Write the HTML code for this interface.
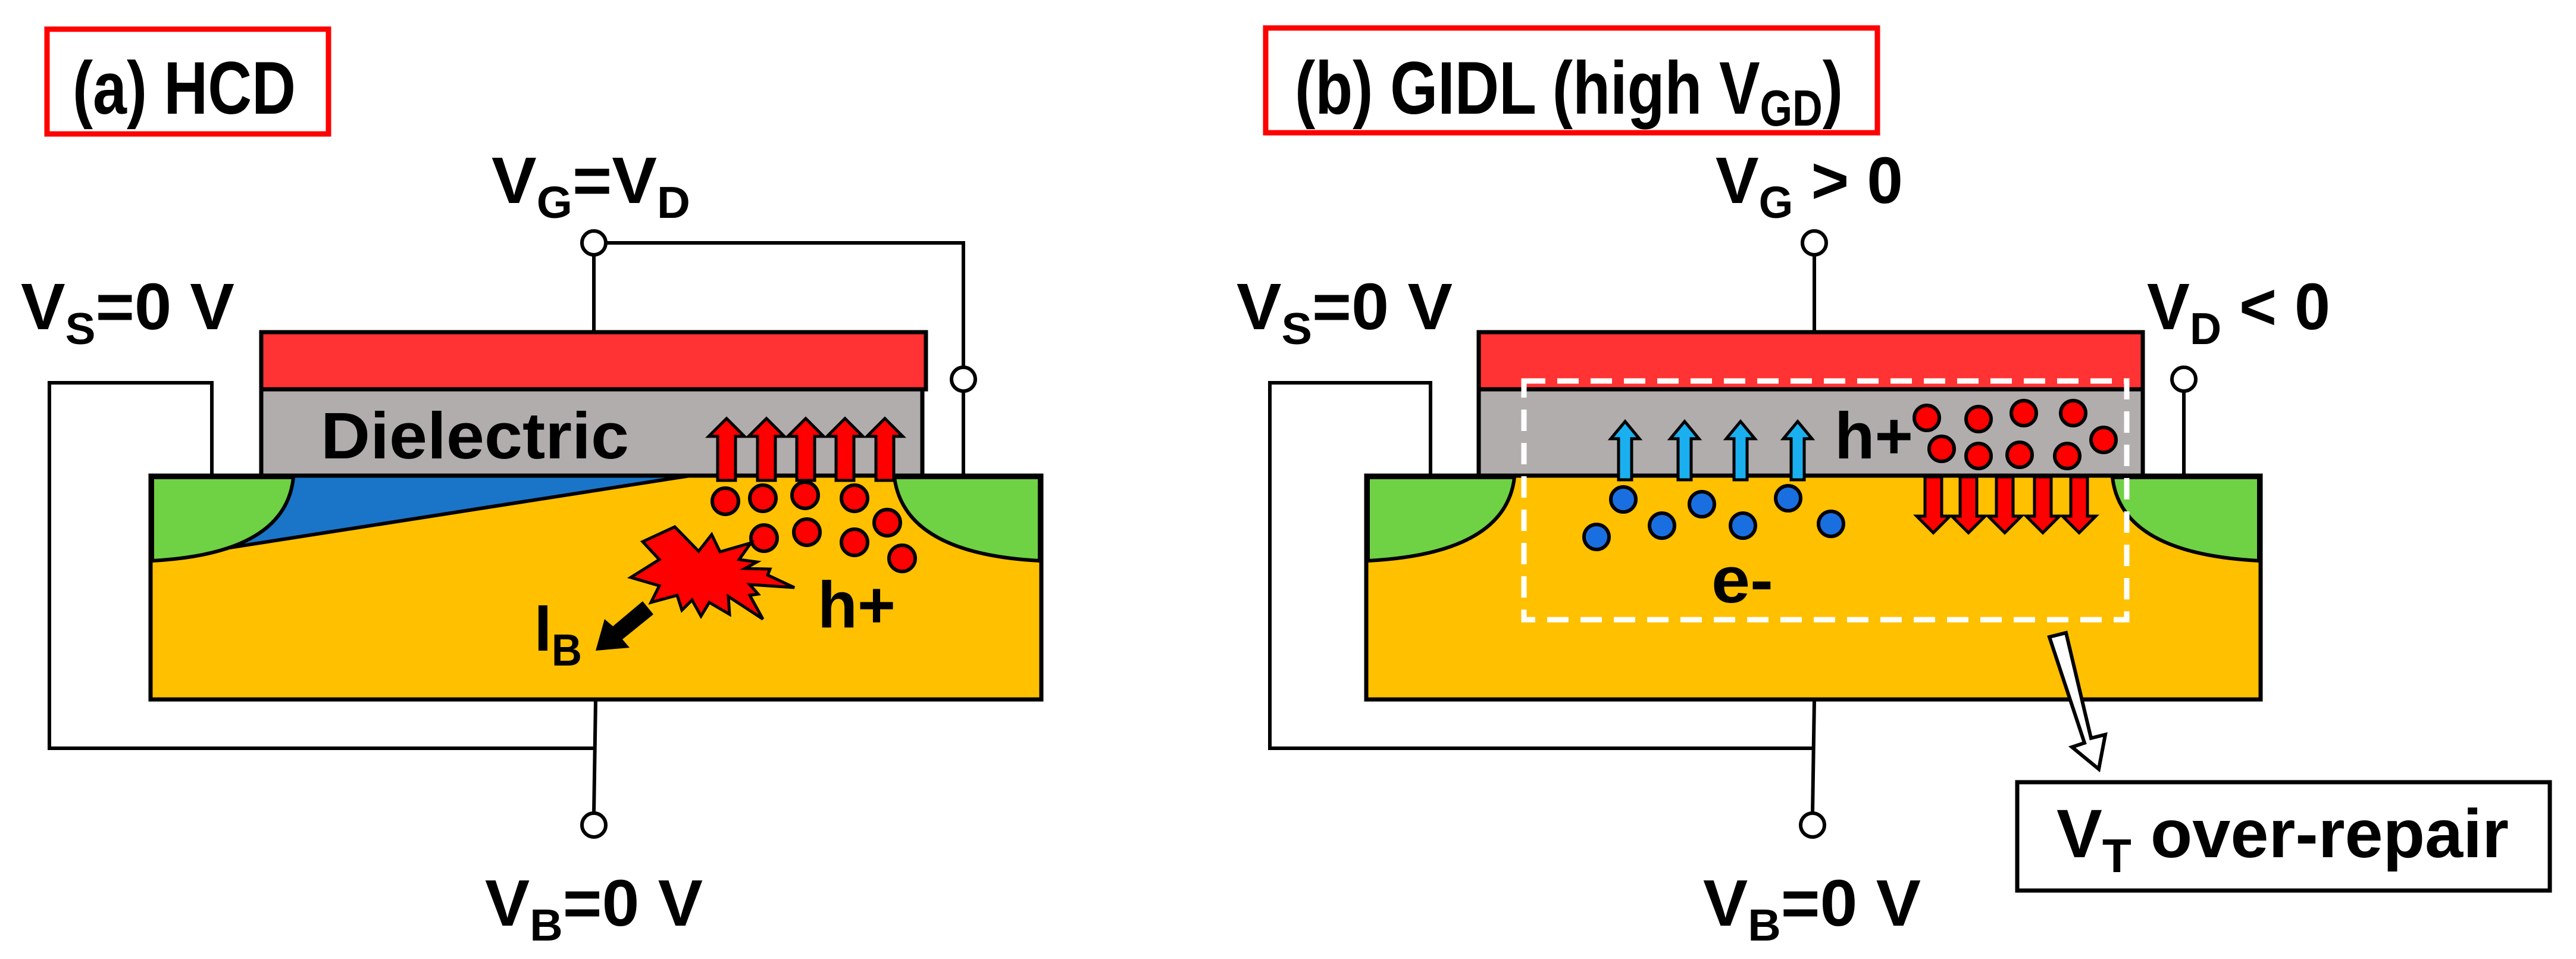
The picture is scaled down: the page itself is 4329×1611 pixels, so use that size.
<!DOCTYPE html>
<html><head><meta charset="utf-8"><style>
html,body{margin:0;padding:0;background:#fff;}
svg{display:block;}
text{font-family:"Liberation Sans",sans-serif;font-weight:bold;fill:#000;}
</style></head><body>
<svg width="4329" height="1611" viewBox="0 0 4329 1611" xmlns="http://www.w3.org/2000/svg">
<defs>
<g id="ua"><polygon points="0,-52 30,-22 15,-22 15,52 -15,52 -15,-22 -30,-22" fill="#f00" stroke="#000" stroke-width="5" stroke-linejoin="miter"/></g>
<g id="ub"><polygon points="0,-49 24,-20 11,-20 11,49 -11,49 -11,-20 -24,-20" fill="#1ab0f0" stroke="#000" stroke-width="5"/></g>
<g id="da"><polygon points="0,47 28,19 14,19 14,-47 -14,-47 -14,19 -28,19" fill="#f00" stroke="#000" stroke-width="5"/></g>
</defs>

<!-- ============ Panel A ============ -->
<rect x="79" y="49" width="473" height="176" fill="#fff" stroke="#f00" stroke-width="9"/>
<text x="122" y="191" font-size="125" textLength="375" lengthAdjust="spacingAndGlyphs">(a) HCD</text>

<text x="826" y="341" font-size="110" textLength="334" lengthAdjust="spacingAndGlyphs">V<tspan font-size="75" dy="25">G</tspan><tspan dy="-25">=V</tspan><tspan font-size="75" dy="25">D</tspan></text>
<text x="35" y="553" font-size="110" textLength="359" lengthAdjust="spacingAndGlyphs">V<tspan font-size="75" dy="25">S</tspan><tspan dy="-25">=0 V</tspan></text>
<text x="815" y="1555" font-size="110" textLength="366" lengthAdjust="spacingAndGlyphs">V<tspan font-size="75" dy="25">B</tspan><tspan dy="-25">=0 V</tspan></text>

<g fill="none" stroke="#000" stroke-width="6">
<polyline points="356,799 356,643 83,643 83,1257 1001,1257"/>
<polyline points="1020,408 1619,408 1619,617"/>
<line x1="1619" y1="657" x2="1619" y2="799"/>
<line x1="998" y1="428" x2="998" y2="558"/>
<line x1="1001" y1="1175" x2="998" y2="1366"/>
</g>
<circle cx="998" cy="408" r="20" fill="#fff" stroke="#000" stroke-width="6"/>
<circle cx="1619" cy="637" r="20" fill="#fff" stroke="#000" stroke-width="6"/>
<circle cx="998" cy="1386" r="20" fill="#fff" stroke="#000" stroke-width="6"/>

<rect x="439" y="558" width="1117" height="96" fill="#ff3333" stroke="#000" stroke-width="7"/>
<rect x="439" y="654" width="1111" height="145" fill="#b1adac" stroke="#000" stroke-width="7"/>
<text x="539" y="770" font-size="110" textLength="518" lengthAdjust="spacingAndGlyphs">Dielectric</text>
<rect x="253" y="799" width="1497" height="376" fill="#ffc000" stroke="#000" stroke-width="7"/>
<path d="M493,799 L1160,799 L373,922 Q470,870 493,799 Z" fill="#1a75c8" stroke="#000" stroke-width="6"/>
<path d="M256,802 L493,802 Q480,930 256,942 Z" fill="#6fd144" stroke="#000" stroke-width="6"/>
<path d="M1503,802 L1747,802 L1747,942 Q1520,930 1503,802 Z" fill="#6fd144" stroke="#000" stroke-width="6"/>
<rect x="253" y="799" width="1497" height="376" fill="none" stroke="#000" stroke-width="7"/>
<line x1="439" y1="799" x2="1550" y2="799" stroke="#000" stroke-width="7"/>

<use href="#ua" x="1221" y="755"/>
<use href="#ua" x="1288" y="755"/>
<use href="#ua" x="1354" y="755"/>
<use href="#ua" x="1420" y="755"/>
<use href="#ua" x="1487" y="755"/>

<g fill="#f00" stroke="#000" stroke-width="6">
<circle cx="1219" cy="842" r="22"/><circle cx="1282" cy="837" r="22"/><circle cx="1353" cy="832" r="22"/>
<circle cx="1436" cy="837" r="22"/><circle cx="1491" cy="878" r="22"/><circle cx="1284" cy="904" r="22"/>
<circle cx="1356" cy="894" r="22"/><circle cx="1436" cy="911" r="22"/><circle cx="1516" cy="938" r="22"/>
</g>
<polygon points="1134,885 1080,910 1108,940 1060,970 1108,984 1094,1012 1138,1000 1146,1025 1163,1008 1178,1035 1192,1012 1226,1032 1224,1002 1282,1040 1260,1000 1274,998 1260,982 1335,987 1290,966 1294,956 1252,955 1272,944 1242,940 1262,912 1210,927 1196,898 1174,926"
 fill="#f00" stroke="#000" stroke-width="5" stroke-linejoin="miter"/>
<polygon points="1080,1010 1098,1032 1046,1074 1058,1088 1001,1093 1016,1040 1030,1052" fill="#000"/>
<text x="1374" y="1054" font-size="110" textLength="131" lengthAdjust="spacingAndGlyphs">h+</text>
<text x="898" y="1093" font-size="110" textLength="80" lengthAdjust="spacingAndGlyphs">I<tspan font-size="75" dy="25">B</tspan></text>

<!-- ============ Panel B ============ -->
<rect x="2127" y="47" width="1028" height="176" fill="#fff" stroke="#f00" stroke-width="9"/>
<text x="2176" y="191" font-size="125" textLength="921" lengthAdjust="spacingAndGlyphs">(b) GIDL (high V<tspan font-size="85" dy="20">GD</tspan><tspan dy="-20">)</tspan></text>

<text x="2883" y="341" font-size="110" textLength="315" lengthAdjust="spacingAndGlyphs">V<tspan font-size="75" dy="25">G</tspan><tspan dy="-25"> &gt; 0</tspan></text>
<text x="2078" y="553" font-size="110" textLength="363" lengthAdjust="spacingAndGlyphs">V<tspan font-size="75" dy="25">S</tspan><tspan dy="-25">=0 V</tspan></text>
<text x="3608" y="553" font-size="110" textLength="308" lengthAdjust="spacingAndGlyphs">V<tspan font-size="75" dy="25">D</tspan><tspan dy="-25"> &lt; 0</tspan></text>
<text x="2862" y="1555" font-size="110" textLength="366" lengthAdjust="spacingAndGlyphs">V<tspan font-size="75" dy="25">B</tspan><tspan dy="-25">=0 V</tspan></text>

<g fill="none" stroke="#000" stroke-width="6">
<polyline points="2404,799 2404,643 2134,643 2134,1257 3049,1257"/>
<line x1="3049" y1="428" x2="3049" y2="558"/>
<line x1="3670" y1="657" x2="3670" y2="799"/>
<line x1="3049" y1="1175" x2="3046" y2="1366"/>
</g>
<circle cx="3049" cy="408" r="20" fill="#fff" stroke="#000" stroke-width="6"/>
<circle cx="3670" cy="637" r="20" fill="#fff" stroke="#000" stroke-width="6"/>
<circle cx="3046" cy="1386" r="20" fill="#fff" stroke="#000" stroke-width="6"/>

<rect x="2485" y="558" width="1116" height="96" fill="#ff3333" stroke="#000" stroke-width="7"/>
<rect x="2485" y="654" width="1116" height="145" fill="#b1adac" stroke="#000" stroke-width="7"/>
<rect x="2296" y="799" width="1503" height="376" fill="#ffc000" stroke="#000" stroke-width="7"/>
<path d="M2299,802 L2545,802 Q2530,930 2299,942 Z" fill="#6fd144" stroke="#000" stroke-width="6"/>
<path d="M3550,802 L3796,802 L3796,942 Q3565,930 3550,802 Z" fill="#6fd144" stroke="#000" stroke-width="6"/>
<rect x="2296" y="799" width="1503" height="376" fill="none" stroke="#000" stroke-width="7"/>
<line x1="2485" y1="799" x2="3601" y2="799" stroke="#000" stroke-width="7"/>

<use href="#ub" x="2731" y="757"/>
<use href="#ub" x="2831" y="757"/>
<use href="#ub" x="2925" y="757"/>
<use href="#ub" x="3021" y="757"/>
<text x="3083" y="770" font-size="110" textLength="132" lengthAdjust="spacingAndGlyphs">h+</text>

<g fill="#f00" stroke="#000" stroke-width="6">
<circle cx="3238" cy="702" r="21"/><circle cx="3325" cy="704" r="21"/><circle cx="3401" cy="694" r="21"/>
<circle cx="3484" cy="694" r="21"/><circle cx="3263" cy="754" r="21"/><circle cx="3325" cy="766" r="21"/>
<circle cx="3394" cy="764" r="21"/><circle cx="3474" cy="766" r="21"/><circle cx="3535" cy="739" r="21"/>
</g>
<use href="#da" x="3249" y="848"/>
<use href="#da" x="3308" y="848"/>
<use href="#da" x="3369" y="848"/>
<use href="#da" x="3433" y="848"/>
<use href="#da" x="3494" y="848"/>

<g fill="#1a6fe0" stroke="#000" stroke-width="6">
<circle cx="2728" cy="839" r="21"/><circle cx="2683" cy="902" r="21"/><circle cx="2793" cy="883" r="21"/>
<circle cx="2860" cy="847" r="21"/><circle cx="2929" cy="883" r="21"/><circle cx="3005" cy="837" r="21"/>
<circle cx="3077" cy="880" r="21"/>
</g>
<text x="2876" y="1012" font-size="110" textLength="104" lengthAdjust="spacingAndGlyphs">e-</text>

<rect x="2561" y="640" width="1013" height="401" fill="none" stroke="#fff" stroke-width="9" stroke-dasharray="36,20"/>

<polygon points="3444,1070 3472,1063 3514,1240 3538,1234 3527,1292 3482,1255 3503,1248" fill="#fff" stroke="#000" stroke-width="6" stroke-linejoin="miter"/>

<rect x="3390" y="1314" width="895" height="182" fill="#fff" stroke="#000" stroke-width="7"/>
<text x="3456" y="1440" font-size="115" textLength="760" lengthAdjust="spacingAndGlyphs">V<tspan font-size="80" dy="25">T</tspan><tspan dy="-25"> over-repair</tspan></text>
</svg>
</body></html>
